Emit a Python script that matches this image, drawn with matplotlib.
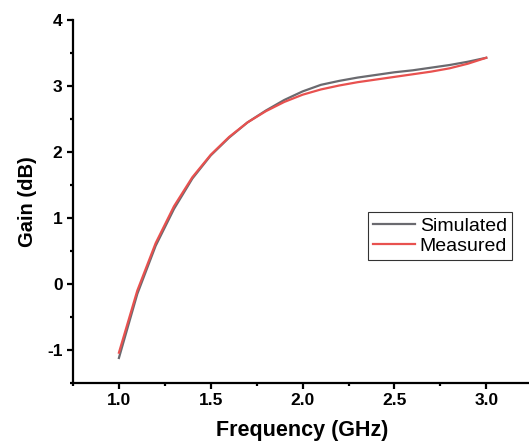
import numpy as np
from matplotlib import pyplot as plt
from matplotlib.ticker import MultipleLocator

plt.rcParams['font.family'] = ['Liberation Sans', 'DejaVu Sans']

freq = [1.0, 1.1, 1.2, 1.3, 1.4, 1.5, 1.6, 1.7, 1.8, 1.9, 2.0,
        2.1, 2.2, 2.3, 2.4, 2.5, 2.6, 2.7, 2.8, 2.9, 3.0]
simulated = [-1.12, -0.15, 0.58, 1.14, 1.60, 1.95, 2.22, 2.45, 2.63, 2.79, 2.92,
             3.02, 3.08, 3.13, 3.17, 3.21, 3.24, 3.28, 3.32, 3.37, 3.43]
measured = [-1.04, -0.10, 0.62, 1.18, 1.62, 1.96, 2.23, 2.45, 2.62, 2.76, 2.87,
            2.95, 3.01, 3.06, 3.10, 3.14, 3.18, 3.22, 3.27, 3.34, 3.43]

fig = plt.figure(figsize=(5.29, 4.48), dpi=100)
ax = fig.add_axes([0.138, 0.145, 0.868, 0.81])

ax.plot(freq, simulated, color='#6a6a6f', lw=1.6, label='Simulated')
ax.plot(freq, measured, color='#e8514f', lw=1.6, label='Measured')

ax.set_xlim(0.75, 3.25)
ax.set_ylim(-1.5, 4)
ax.xaxis.set_minor_locator(MultipleLocator(0.25))
ax.yaxis.set_minor_locator(MultipleLocator(0.5))
ax.spines['top'].set_visible(False)
ax.spines['right'].set_visible(False)
for s in ['left', 'bottom']:
    ax.spines[s].set_linewidth(1.6)
ax.tick_params(which='major', direction='out', length=4.5, width=1.6, pad=3)
ax.tick_params(which='minor', direction='out', length=2.5, width=1.6)
ax.set_xticks([1.0, 1.5, 2.0, 2.5, 3.0])
ax.set_xticklabels(['1.0', '1.5', '2.0', '2.5', '3.0'], fontweight='bold', fontsize=12.5)
ax.set_yticks([-1, 0, 1, 2, 3, 4])
ax.set_yticklabels(['-1', '0', '1', '2', '3', '4'], fontweight='bold', fontsize=12.5)

ax.set_xlabel('Frequency (GHz)', fontsize=15.5, fontweight='bold', labelpad=8)
ax.set_ylabel('Gain (dB)', fontsize=14.5, fontweight='bold', labelpad=7)

leg = ax.legend(loc='upper left', bbox_to_anchor=(0.643, 0.471), fontsize=14,
                frameon=True, fancybox=False, edgecolor='black',
                handlelength=2.15, handletextpad=0.25, borderpad=0.25,
                labelspacing=0.15, borderaxespad=0)
leg.get_frame().set_linewidth(0.8)

fig.savefig('out.png', dpi=100)
